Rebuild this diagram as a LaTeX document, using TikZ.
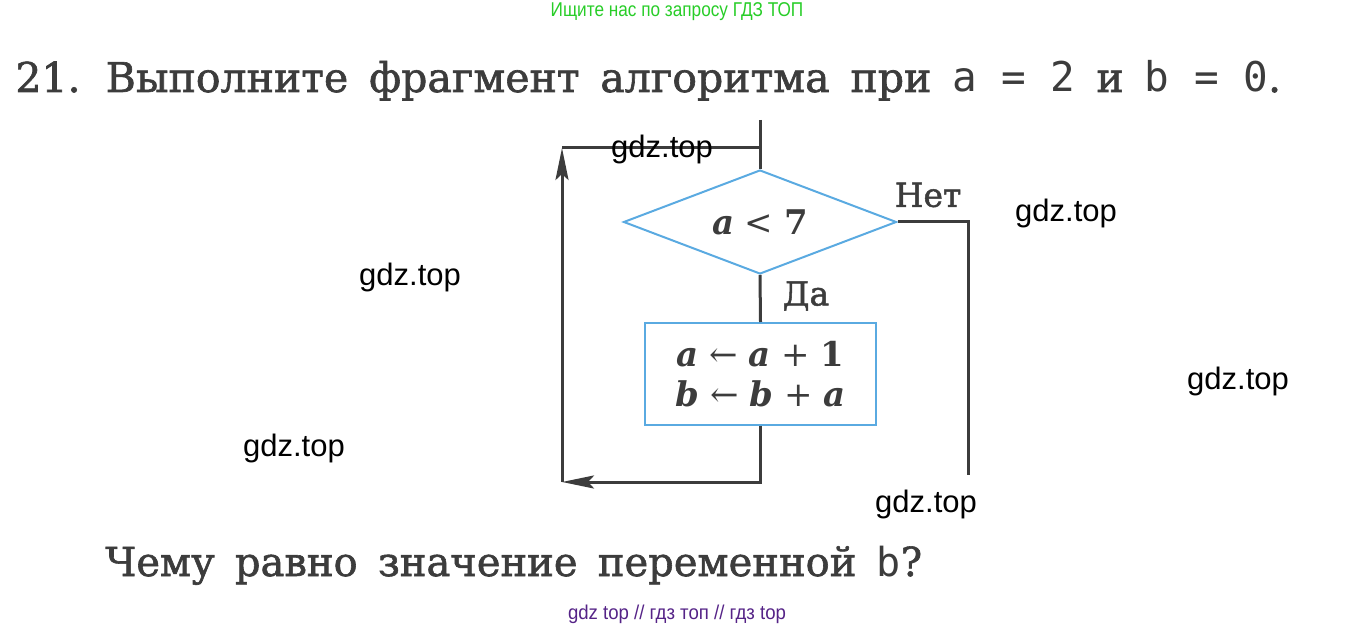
\documentclass[tikz,border=0pt]{standalone}
\usepackage{fontspec}
\usepackage{tikz}
\usetikzlibrary{shapes.geometric,arrows.meta}
\setmainfont{DejaVu Serif}
\newfontfamily\bookfont[WordSpace=1.6,FakeBold=1.5]{DejaVu Serif}
\newfontfamily\wmfont{Liberation Sans}
\newfontfamily\codefont{DejaVu Sans Mono}
\definecolor{ink}{RGB}{60,60,60}
\definecolor{flowblue}{RGB}{90,170,225}
\definecolor{siteg}{RGB}{40,205,40}
\definecolor{sitep}{RGB}{85,35,135}
\newcommand{\vr}[1]{{\bfseries\itshape #1}}

\begin{document}
\begin{tikzpicture}[x=0.5pt,y=-0.5pt,
    line/.style={draw=ink, line width=1.5pt},
    arr/.style={line, -{Stealth[length=16pt,width=6.5pt,inset=3pt]}},
    blk/.style={draw=flowblue, line width=1pt, inner sep=0pt, text=ink, font=\fontsize{17}{20}\selectfont},
    lbl/.style={text=ink, font=\bookfont\fontsize{16.5}{20}\selectfont},
    wm/.style={font=\wmfont\fontsize{15.5}{18}\selectfont}]
    \useasboundingbox (0,0) rectangle (1354,630);

    % texts round the chart
    \node[text=siteg, font=\wmfont\fontsize{10}{12}\selectfont, xscale=0.86] (site) at (677,12) {Ищите нас по запросу ГДЗ ТОП};
    \node[anchor=base west, inner sep=0pt, text=ink, font=\bookfont\fontsize{20.5}{26}\selectfont] (task) at (15,92)
        {21. Выполните фрагмент алгоритма при {\codefont a = 2} и {\codefont b = 0}.};
    \node[anchor=base west, inner sep=0pt, text=ink, font=\bookfont\fontsize{20}{25}\selectfont] (ask) at (105,576)
        {Чему равно значение переменной {\codefont b}?};
    \node[text=sitep, font=\wmfont\fontsize{10}{12}\selectfont, xscale=0.93] (tags) at (677,614) {gdz top // гдз топ // гдз top};

    % chart
    \node[blk, shape=diamond, shape aspect=2.6, minimum width=136.5pt, minimum height=52pt] (cond) at (760,222)
        {\vr{a} < \textbf{7}};
    \node[blk, minimum width=115.5pt, minimum height=51pt, align=center] (body) at (760.5,374)
        {\vr{a} ← \vr{a} + \textbf{1}\\ \vr{b} ← \vr{b} + \vr{a}};
    \coordinate (in) at (760,120);
    \coordinate (join) at (760,148);
    \coordinate (up) at (562,148);
    \coordinate (back) at (562,482);
    \coordinate (out) at (968,475);

    \draw[line] (in) -- (cond.north);
    \draw[line] (cond.south) -- (body.north);
    \draw[arr] (body.south) |- (back);
    \draw[arr] (back) -- (up);
    \draw[line] (up) -- (join);
    \draw[line] (cond.east) -| (out);

    \node[lbl] (yes) at (806,296) {Да};
    \node[lbl] (no) at (928,195) {Нет};

    % watermarks
    \node[wm] (wm1) at (662,149) {gdz.top};
    \node[wm] (wm2) at (1066,213) {gdz.top};
    \node[wm] (wm3) at (410,277) {gdz.top};
    \node[wm] (wm4) at (1238,381) {gdz.top};
    \node[wm] (wm5) at (294,448) {gdz.top};
    \node[wm] (wm6) at (926,504) {gdz.top};
\end{tikzpicture}
\end{document}
